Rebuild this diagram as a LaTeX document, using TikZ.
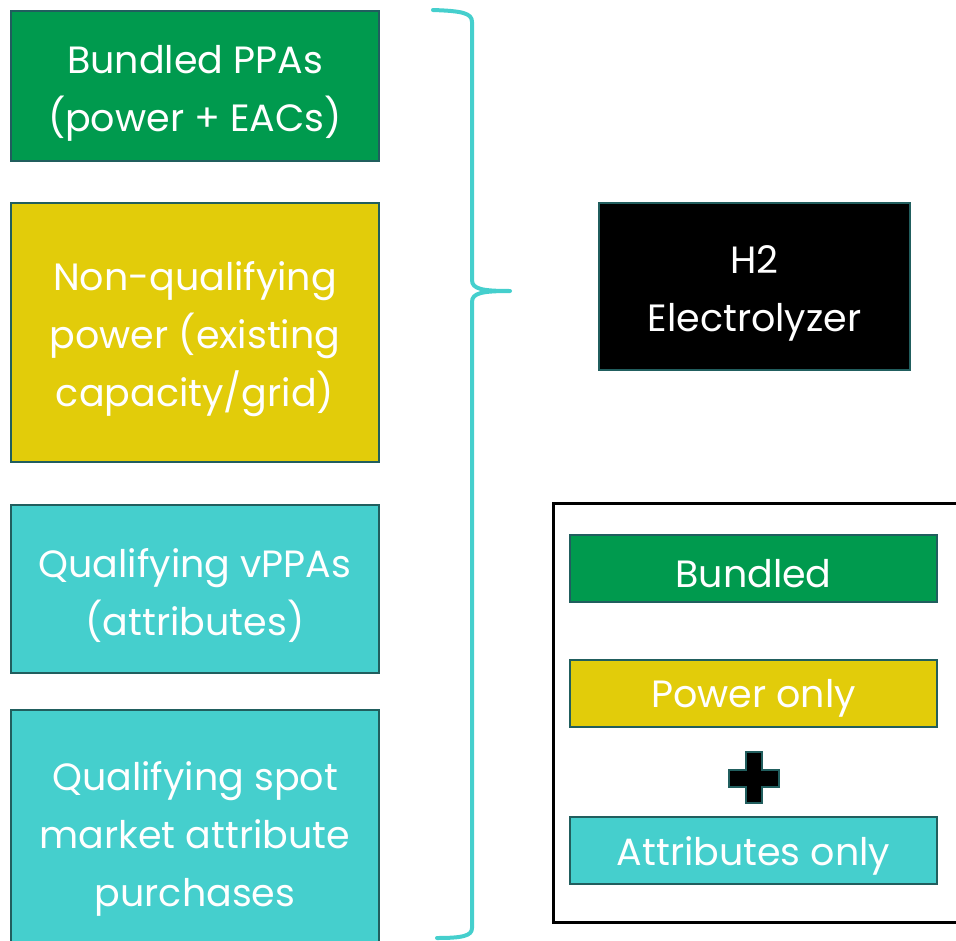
\documentclass[tikz,border=0pt]{standalone}
\usepackage{fontspec}
\setmainfont{Poppins}
\definecolor{cgreen}{HTML}{009A4E}
\definecolor{cyellow}{HTML}{E2CC0A}
\definecolor{cteal}{HTML}{45CFCD}
\definecolor{cborder}{HTML}{215E5E}
\begin{document}
\begin{tikzpicture}[x=1pt,y=-1pt,
  box/.style={draw=cborder,line width=2pt,minimum width=368pt,inner sep=0pt},
  lbox/.style={draw=cborder,line width=2pt,minimum width=367pt,minimum height=67pt,inner sep=0pt},
  txt/.style={text=white,align=center,inner sep=0pt,font=\fontsize{38}{58}\selectfont}]
\useasboundingbox (0,0) rectangle (956,940);
\clip (0,0) rectangle (956,940);
\node[box,fill=cgreen,minimum height=150pt] (b1) at (195,86) {};
\node[box,fill=cyellow,minimum height=259pt] (b2) at (195,332.5) {};
\node[box,fill=cteal,minimum height=168pt] (b3) at (195,589) {};
\node[box,fill=cteal,minimum height=244pt] (b4) at (195,832) {};
\node[box,fill=black,minimum width=311pt,minimum height=167pt] (h2) at (754.5,286.5) {};
\node[txt] (t1) at ([yshift=-7pt]b1.center) {Bundled PPAs\\(power + EACs)};
\node[txt] (t2) at ([yshift=-7pt]b2.center) {Non-qualifying\\power (existing\\capacity/grid)};
\node[txt] (t3) at ([yshift=-7pt]b3.center) {Qualifying vPPAs\\(attributes)};
\node[txt] (t4) at ([yshift=-7pt]b4.center) {Qualifying spot\\market attribute\\purchases};
\node[txt] (th) at ([yshift=-7pt]h2.center) {H2\\Electrolyzer};
\draw[line width=3pt] (553,503) rectangle (962,922);
\node[lbox,fill=cgreen] (l1) at (753.5,568.5) {};
\node[lbox,fill=cyellow] (l2) at (753.5,693) {};
\node[lbox,fill=cteal] (l3) at (753.5,850.5) {};
\node[txt] (lt1) at ([yshift=-5pt]l1.center) {Bundled};
\node[txt] (lt2) at ([yshift=-5pt]l2.center) {Power only};
\node[txt] (lt3) at ([yshift=-5pt]l3.center) {Attributes only};
\draw[draw=cborder,fill=black,line width=2pt] (746,752) -- (762,752) -- (762,770) -- (779,770) -- (779,787) -- (762,787) -- (762,803) -- (746,803) -- (746,787) -- (729,787) -- (729,770) -- (746,770) -- cycle;
\draw[cteal,line width=4pt,line cap=round,line join=round]
  (433,10) .. controls (462,11) and (472,13) .. (472,22) -- (472,280)
  .. controls (472,289) and (482,291) .. (510,291)
  (510,291) .. controls (482,291) and (472,293) .. (472,302) -- (472,928)
  .. controls (472,936) and (462,938) .. (437,938);
\end{tikzpicture}
\end{document}
